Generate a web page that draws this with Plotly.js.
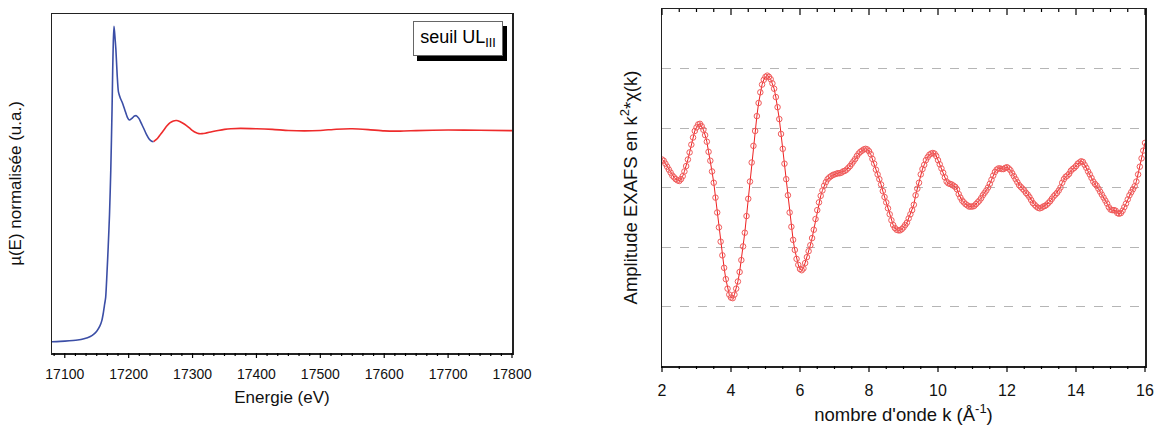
<!DOCTYPE html>
<html>
<head>
<meta charset="utf-8">
<script src="https://cdn.plot.ly/plotly-3.0.1.min.js"></script>
<style>html,body{margin:0;padding:0;background:#fff;}#chart{width:1155px;height:425px;}</style>
</head>
<body>
<div id="chart"></div>
<script>
// ---- Left panel: XANES, U L_III edge ----
const energyEdge = [17080, 17100, 17120, 17130, 17140, 17145, 17150, 17155, 17158, 17160, 17162, 17164, 17166, 17168, 17170, 17172, 17174, 17175, 17176, 17177, 17178, 17180, 17182, 17184, 17187, 17190, 17194, 17198, 17201, 17205, 17209, 17212, 17216, 17220, 17224, 17228, 17232, 17236, 17239];
const muEdge = [0.0, 0.003, 0.008, 0.014, 0.025, 0.035, 0.05, 0.075, 0.1, 0.13, 0.17, 0.21, 0.32, 0.45, 0.60, 0.81, 1.10, 1.28, 1.42, 1.49, 1.46, 1.38, 1.26, 1.18, 1.15, 1.13, 1.095, 1.06, 1.047, 1.055, 1.066, 1.068, 1.055, 1.03, 1.005, 0.978, 0.958, 0.947, 0.945];
const energyPost = [17239, 17245, 17250, 17255, 17260, 17265, 17270, 17275, 17280, 17285, 17290, 17295, 17300, 17305, 17310, 17315, 17320, 17330, 17340, 17350, 17360, 17375, 17400, 17425, 17450, 17475, 17500, 17525, 17550, 17575, 17600, 17625, 17650, 17700, 17750, 17800];
const muPost = [0.945, 0.96, 0.98, 1.0, 1.02, 1.035, 1.043, 1.045, 1.04, 1.032, 1.022, 1.01, 0.997, 0.988, 0.983, 0.983, 0.985, 0.992, 0.998, 1.003, 1.006, 1.008, 1.006, 1.003, 0.998, 0.996, 0.998, 1.004, 1.006, 1.002, 0.996, 0.995, 0.997, 1.0, 0.999, 0.997];
const energyTicks = [17100, 17200, 17300, 17400, 17500, 17600, 17700, 17800];
const energyMinorPerMajor = 6;

// ---- Right panel: EXAFS k^2 chi(k), k from 2 to 16 in steps of 0.05 ----
const kStart = 2;
const kStep = 0.05;
const chiK2 = [
  0.47,0.45,0.40,0.35,0.30,0.25,0.20,0.17,0.14,0.12,0.11,0.14,0.19,0.27,0.36,0.47,0.59,0.72,0.84,0.95,
  1.01,1.06,1.07,1.03,0.97,0.88,0.77,0.60,0.45,0.27,0.08,-0.17,-0.42,-0.67,-0.91,-1.14,-1.35,-1.54,-1.70,-1.80,
  -1.85,-1.86,-1.80,-1.70,-1.58,-1.42,-1.22,-0.99,-0.76,-0.48,-0.19,0.10,0.42,0.70,0.95,1.20,1.42,1.60,1.73,1.81,
  1.86,1.88,1.86,1.82,1.75,1.66,1.52,1.35,1.15,0.90,0.65,0.40,0.14,-0.13,-0.42,-0.66,-0.88,-1.05,-1.20,-1.30,
  -1.37,-1.39,-1.36,-1.27,-1.17,-1.07,-0.97,-0.85,-0.71,-0.53,-0.38,-0.25,-0.14,-0.05,0.03,0.09,0.14,0.17,0.19,0.21,
  0.22,0.23,0.24,0.24,0.25,0.27,0.28,0.30,0.33,0.36,0.40,0.44,0.48,0.53,0.57,0.60,0.62,0.64,0.65,0.64,
  0.61,0.56,0.48,0.40,0.30,0.22,0.14,0.05,-0.06,-0.16,-0.25,-0.35,-0.45,-0.55,-0.63,-0.68,-0.71,-0.72,-0.72,-0.70,
  -0.67,-0.63,-0.59,-0.52,-0.45,-0.38,-0.29,-0.13,-0.02,0.08,0.22,0.31,0.38,0.46,0.51,0.55,0.57,0.58,0.57,0.53,
  0.46,0.39,0.32,0.25,0.17,0.10,0.07,0.06,0.05,0.03,0.01,-0.03,-0.11,-0.17,-0.22,-0.25,-0.28,-0.30,-0.32,-0.32,
  -0.32,-0.31,-0.28,-0.25,-0.22,-0.18,-0.13,-0.09,-0.05,0.00,0.06,0.13,0.20,0.26,0.30,0.32,0.32,0.31,0.31,0.33,
  0.34,0.32,0.29,0.24,0.19,0.14,0.09,0.04,0.01,-0.02,-0.05,-0.09,-0.12,-0.16,-0.21,-0.26,-0.29,-0.32,-0.34,-0.35,
  -0.34,-0.32,-0.31,-0.29,-0.26,-0.23,-0.19,-0.15,-0.12,-0.09,-0.05,0.00,0.08,0.14,0.18,0.20,0.23,0.28,0.31,0.33,
  0.36,0.40,0.42,0.44,0.43,0.38,0.33,0.27,0.22,0.16,0.10,0.06,0.03,-0.02,-0.07,-0.12,-0.17,-0.22,-0.27,-0.33,
  -0.37,-0.38,-0.38,-0.39,-0.43,-0.44,-0.43,-0.39,-0.33,-0.27,-0.20,-0.13,-0.08,-0.03,0.02,0.10,0.22,0.35,0.49,0.62,
  0.75
];
const kTicks = [2, 4, 6, 8, 10, 12, 14, 16];
const kMinorPerMajor = 4;

const FONT = 'Liberation Sans, Arial, Helvetica, sans-serif';
const W = 1155, H = 425;
const px = v => v / W;
const py = v => 1 - v / H;

// frame edges (pixels) and axis ranges
const L = {x0: 52, x1: 512, top: 14, bottom: 353, lo: 17080, hi: 17800};
const R = {x0: 662, x1: 1145, top: 9, bottom: 366, lo: 2, hi: 16};

const traces = [
  {x: energyEdge, y: muEdge, type: 'scatter', mode: 'lines', xaxis: 'x', yaxis: 'y',
   line: {color: '#3b4ea6', width: 1.6, shape: 'spline', smoothing: 0.6}, showlegend: false, hoverinfo: 'skip'},
  {x: energyPost, y: muPost, type: 'scatter', mode: 'lines', xaxis: 'x', yaxis: 'y',
   line: {color: '#ee2b2b', width: 1.6, shape: 'spline', smoothing: 0.6}, showlegend: false, hoverinfo: 'skip'},
  {y: chiK2, x0: kStart, dx: kStep, type: 'scatter', mode: 'lines+markers', xaxis: 'x2', yaxis: 'y2',
   line: {color: '#ee2020', width: 1},
   marker: {symbol: 'circle-open', size: 5.5, color: '#f05a5a', line: {width: 1}},
   showlegend: false, hoverinfo: 'skip'}
];

// axis tick marks (frame decoration), mapped from axis range onto the axis domain in paper units
function tickShapes(P, majors, nMinor, yPix, dir, majLen, minLen) {
  const out = [];
  const step = (majors[1] - majors[0]) / nMinor;
  const toPaper = v => px(P.x0) + (v - P.lo) / (P.hi - P.lo) * (px(P.x1) - px(P.x0));
  for (let i = -nMinor; i <= majors.length * nMinor; i++) {
    const v = majors[0] + i * step;
    if (v < P.lo - 1e-9 || v > P.hi + 1e-9) continue;
    const len = (i % nMinor === 0) ? majLen : minLen;
    const xp = toPaper(v);
    out.push({type: 'line', xref: 'paper', yref: 'paper', x0: xp, x1: xp,
      y0: py(yPix), y1: py(yPix + dir * len), line: {color: '#000', width: 1.2}, layer: 'above'});
  }
  return out;
}

const shapes = [].concat(
  tickShapes(L, energyTicks, energyMinorPerMajor, L.bottom, 1, 5, 3),
  tickShapes(R, kTicks, kMinorPerMajor, R.bottom, 1, 6, 3),
  tickShapes(R, kTicks, kMinorPerMajor, R.top, 1, 6, 3),
  [{type: 'rect', xref: 'paper', yref: 'paper', x0: px(417), x1: px(507), y0: py(61), y1: py(26),
    fillcolor: '#000', line: {width: 0}, layer: 'above'}]
);

const layout = {
  width: W, height: H,
  margin: {l: 0, r: 0, t: 0, b: 0},
  paper_bgcolor: '#ffffff', plot_bgcolor: '#ffffff',
  font: {family: FONT, color: '#000'},
  showlegend: false,
  xaxis: {
    domain: [px(L.x0), px(L.x1)], anchor: 'y',
    range: [L.lo, L.hi], tickvals: energyTicks, tickformat: 'd', ticks: '',
    showline: true, linecolor: '#222', linewidth: 1.5, mirror: true,
    showgrid: false, zeroline: false,
    tickfont: {family: FONT, size: 14, color: '#111'}, ticklabelstandoff: 8,
    title: {text: 'Energie (eV)', font: {family: FONT, size: 17, color: '#111'}, standoff: 10}
  },
  yaxis: {
    domain: [py(L.bottom), py(L.top)], anchor: 'x',
    range: [-0.053, 1.548],
    showticklabels: false, ticks: '',
    showline: true, linecolor: '#222', linewidth: 1.5, mirror: true,
    showgrid: false, zeroline: false,
    title: {text: 'µ(E) normalisée (u.a.)', font: {family: FONT, size: 17, color: '#111'}, standoff: 24}
  },
  xaxis2: {
    domain: [px(R.x0), px(R.x1)], anchor: 'y2',
    range: [R.lo, R.hi], tickvals: kTicks, ticks: '',
    showline: true, linecolor: '#222', linewidth: 1.5, mirror: true,
    showgrid: false, zeroline: false,
    tickfont: {family: FONT, size: 16, color: '#111'}, ticklabelstandoff: 9,
    title: {text: "nombre d'onde k (Å<sup>-1</sup>)", font: {family: FONT, size: 18.5, color: '#111'}, standoff: 10}
  },
  yaxis2: {
    domain: [py(R.bottom), py(R.top)], anchor: 'x2',
    range: [-3, 3], dtick: 1, tick0: 0,
    showticklabels: false, ticks: '',
    showgrid: true, gridcolor: '#b5b5b5', griddash: 'dash', gridwidth: 1,
    showline: true, linecolor: '#222', linewidth: 1.5, mirror: true,
    zeroline: false,
    title: {text: 'Amplitude EXAFS en k<sup>2</sup>*χ(k)', font: {family: FONT, size: 18.5, color: '#111'}, standoff: 18}
  },
  shapes: shapes,
  annotations: [
    {xref: 'paper', yref: 'paper', x: px(458), y: py(38.7), xanchor: 'center', yanchor: 'middle',
     text: 'seuil UL<sub>III</sub>', showarrow: false,
     font: {family: FONT, size: 18, color: '#000'},
     width: 86, height: 31, bgcolor: '#ffffff', bordercolor: '#666', borderwidth: 1, borderpad: 1}
  ]
};

Plotly.newPlot('chart', traces, layout, {displayModeBar: false, staticPlot: true});
</script>
</body>
</html>
